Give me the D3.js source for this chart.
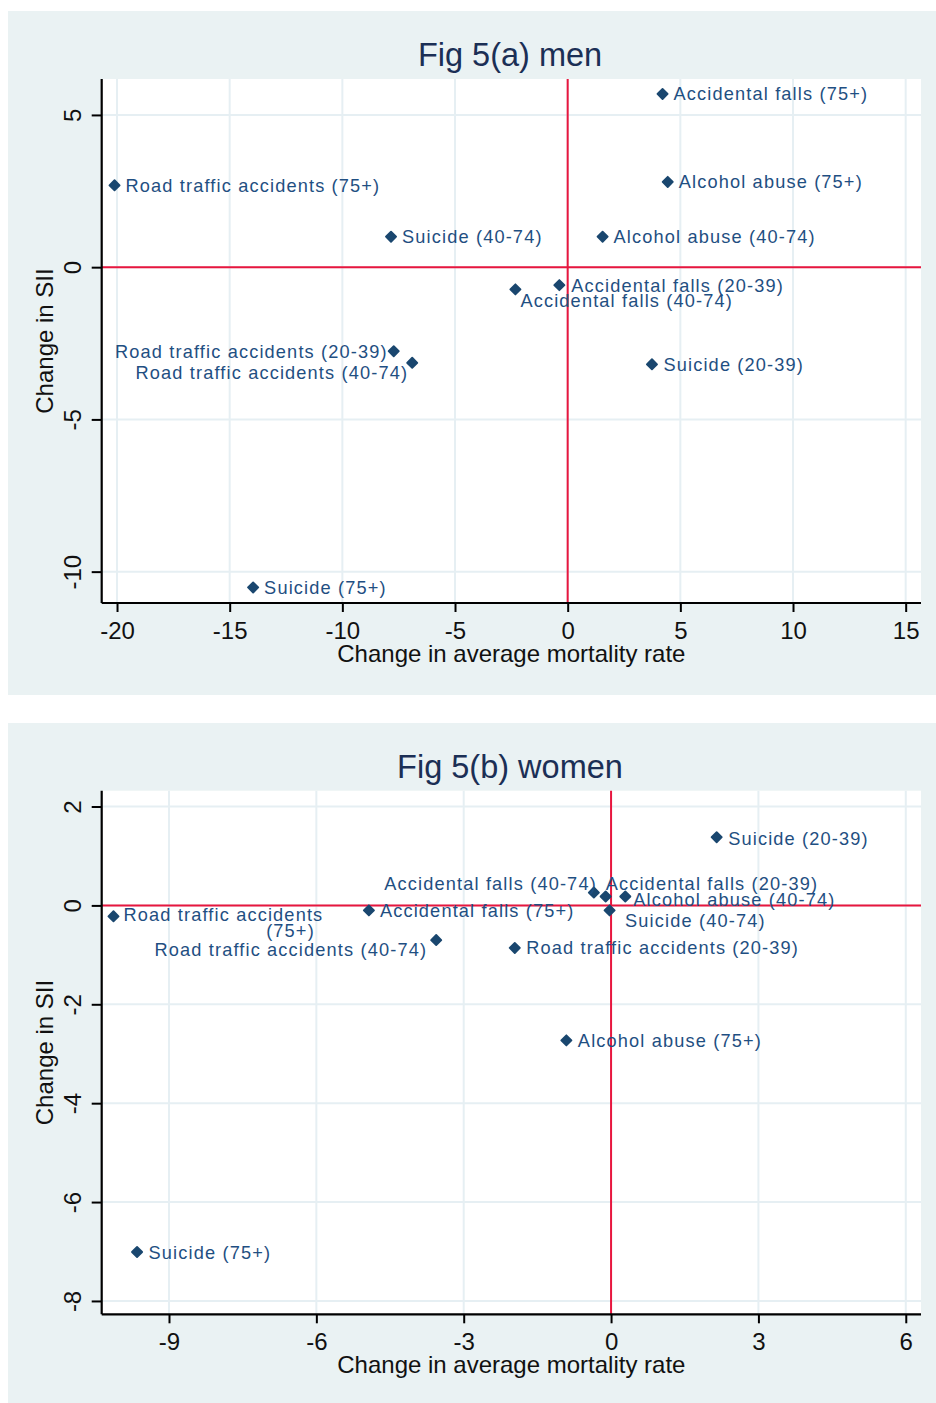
<!DOCTYPE html>
<html>
<head>
<meta charset="utf-8">
<script src="https://cdn.jsdelivr.net/npm/d3@7"></script>
<style>
  html, body { margin: 0; padding: 0; background: #ffffff; }
  svg { display: block; font-family: "Liberation Sans", Arial, sans-serif; }
</style>
</head>
<body>
<svg id="chart" width="936" height="1403"></svg>
<script>
// ---- Data: men ----
const menCauses = [
  "Accidental falls (75+)", "Alcohol abuse (75+)", "Alcohol abuse (40-74)",
  "Accidental falls (20-39)", "Accidental falls (40-74)", "Suicide (40-74)",
  "Road traffic accidents (75+)", "Road traffic accidents (20-39)",
  "Road traffic accidents (40-74)", "Suicide (75+)", "Suicide (20-39)"
];
const menMortalityChange = [4.21, 4.44, 1.55, -0.37, -2.32, -7.84, -20.11, -7.72, -6.90, -13.96, 3.74];
const menSIIChange       = [5.69, 2.80, 1.00, -0.59, -0.73, 1.00, 2.69, -2.76, -3.14, -10.52, -3.19];
const menXTicks = [-20, -15, -10, -5, 0, 5, 10, 15];
const menYTicks = [5, 0, -5, -10];

// ---- Data: women ----
const womenCauses = [
  "Suicide (20-39)", "Accidental falls (40-74)", "Accidental falls (20-39)",
  "Alcohol abuse (40-74)", "Suicide (40-74)", "Road traffic accidents (20-39)",
  "Accidental falls (75+)", "Road traffic accidents (40-74)",
  "Road traffic accidents (75+)", "Alcohol abuse (75+)", "Suicide (75+)"
];
const womenMortalityChange = [2.15, -0.35, -0.11, 0.29, -0.03, -1.96, -4.93, -3.56, -10.13, -0.91, -9.65];
const womenSIIChange       = [1.38, 0.26, 0.18, 0.18, -0.10, -0.86, -0.10, -0.70, -0.22, -2.73, -7.01];
const womenXTicks = [-9, -6, -3, 0, 3, 6];
const womenYTicks = [2, 0, -2, -4, -6, -8];

// Marker-label placement (anchor, dx, dy in px; optional wrapped second line)
const menLabelPlacement = [
  ["start", 11, 0], ["start", 11, 0], ["start", 11, 0], ["start", 12, 0],
  ["start", 5, 11.5], ["start", 11, 0], ["start", 11, 0], ["end", -6, 0],
  ["end", -4, 9.5], ["start", 11, 0], ["start", 11.5, 0]
];
const womenLabelPlacement = [
  ["start", 11.5, 1], ["end", 3, -9], ["start", 0, -13], ["start", 8, 3],
  ["start", 15.5, 10], ["start", 11.5, 0], ["start", 11, 0], ["end", -9, 9.5],
  ["start", 10, -2, { split: 22, dx2: 167, dy2: 16 }], ["start", 11.5, 0], ["start", 11.5, 0]
];

const panels = [
  {
    title: "Fig 5(a) men", causes: menCauses, xs: menMortalityChange, ys: menSIIChange,
    xTicks: menXTicks, yTicks: menYTicks, xDomain: [-20.68, 15.68], yDomain: [-11.03, 6.18],
    place: menLabelPlacement, boxTop: 11, boxBottom: 695, plotTop: 79, plotBottom: 603, titleY: 66
  },
  {
    title: "Fig 5(b) women", causes: womenCauses, xs: womenMortalityChange, ys: womenSIIChange,
    xTicks: womenXTicks, yTicks: womenYTicks, xDomain: [-10.37, 6.31], yDomain: [-8.27, 2.32],
    place: womenLabelPlacement, boxTop: 723, boxBottom: 1403, plotTop: 790.7, plotBottom: 1314.3, titleY: 778
  }
];

const svg = d3.select("#chart");
const plotLeft = 101.7, plotRight = 921;
const colors = {
  panelBg: "#eaf2f3", grid: "#e6eff3", ref: "#e8163e",
  marker: "#1a476f", label: "#1f4f82", title: "#1b2f55", axis: "#000000"
};

panels.forEach(p => {
  const g = svg.append("g");
  const x = d3.scaleLinear().domain(p.xDomain).range([plotLeft, plotRight]);
  const y = d3.scaleLinear().domain(p.yDomain).range([p.plotBottom, p.plotTop]);

  // outer panel and plot region
  g.append("rect").attr("x", 8).attr("y", p.boxTop).attr("width", 928)
    .attr("height", p.boxBottom - p.boxTop).attr("fill", colors.panelBg);
  g.append("rect").attr("x", plotLeft).attr("y", p.plotTop)
    .attr("width", plotRight - plotLeft).attr("height", p.plotBottom - p.plotTop).attr("fill", "#ffffff");

  // gridlines
  g.append("g").selectAll("line").data(p.xTicks).join("line")
    .attr("x1", d => x(d)).attr("x2", d => x(d)).attr("y1", p.plotTop).attr("y2", p.plotBottom)
    .attr("stroke", colors.grid).attr("stroke-width", 2);
  g.append("g").selectAll("line").data(p.yTicks).join("line")
    .attr("x1", plotLeft).attr("x2", plotRight).attr("y1", d => y(d)).attr("y2", d => y(d))
    .attr("stroke", colors.grid).attr("stroke-width", 2);

  // reference lines at zero
  g.append("line").attr("x1", plotLeft).attr("x2", plotRight).attr("y1", y(0)).attr("y2", y(0))
    .attr("stroke", colors.ref).attr("stroke-width", 2);
  g.append("line").attr("x1", x(0)).attr("x2", x(0)).attr("y1", p.plotTop).attr("y2", p.plotBottom)
    .attr("stroke", colors.ref).attr("stroke-width", 2);

  // axes
  const xAxis = g.append("g").attr("transform", `translate(0,${p.plotBottom})`)
    .call(d3.axisBottom(x).tickValues(p.xTicks).tickSize(9).tickSizeOuter(0).tickFormat(d3.format("d")));
  const yAxis = g.append("g").attr("transform", `translate(${plotLeft},0)`)
    .call(d3.axisLeft(y).tickValues(p.yTicks).tickSize(10).tickSizeOuter(0).tickFormat(d3.format("d")));
  [xAxis, yAxis].forEach(a => {
    a.select(".domain").attr("stroke", colors.axis).attr("stroke-width", 2.2);
    a.selectAll(".tick line").attr("stroke", colors.axis).attr("stroke-width", 2);
    a.selectAll(".tick text").attr("fill", "#111").attr("font-size", 24)
      .attr("font-family", "'Liberation Sans', Arial, sans-serif");
  });
  xAxis.select(".domain").attr("d", `M${plotLeft},0H${plotRight}`);
  yAxis.select(".domain").attr("d", `M0,${p.plotTop}V${p.plotBottom}`);
  xAxis.selectAll(".tick text").attr("y", 36).attr("dy", null).text(d => d3.format("d")(d).replace("−", "-"));
  yAxis.selectAll(".tick text").attr("x", null).attr("dy", null).attr("text-anchor", "middle")
    .attr("transform", "translate(-20.7,0) rotate(-90)")
    .text(d => d3.format("d")(d).replace("−", "-"));

  // titles
  g.append("text").attr("x", 510).attr("y", p.titleY).attr("text-anchor", "middle")
    .attr("font-size", 32.5).attr("fill", colors.title).text(p.title);
  g.append("text").attr("x", (plotLeft + plotRight) / 2).attr("y", p.plotBottom + 58.5)
    .attr("text-anchor", "middle").attr("font-size", 24).attr("fill", "#111")
    .text("Change in average mortality rate");
  g.append("text").attr("transform", `translate(53,${(p.plotTop + p.plotBottom) / 2}) rotate(-90)`)
    .attr("text-anchor", "middle").attr("font-size", 24).attr("fill", "#111")
    .text("Change in SII");

  // points
  const pts = p.causes.map((c, i) => ({ cause: c, mx: p.xs[i], sy: p.ys[i], place: p.place[i] }));
  const sym = d3.symbol().type(d3.symbolDiamond2).size(66);
  g.append("g").selectAll("path").data(pts).join("path")
    .attr("d", sym)
    .attr("transform", d => `translate(${x(d.mx)},${y(d.sy)})`)
    .attr("fill", colors.marker).attr("stroke", colors.marker)
    .attr("stroke-width", 1.8).attr("stroke-linejoin", "round");

  // marker labels
  const labels = g.append("g").selectAll("text").data(pts).join("text")
    .attr("x", d => x(d.mx) + d.place[1])
    .attr("y", d => y(d.sy) + d.place[2])
    .attr("dy", "0.36em")
    .attr("text-anchor", d => d.place[0])
    .attr("font-size", 18.2).attr("letter-spacing", 1.15)
    .attr("fill", colors.label);
  labels.each(function (d) {
    const t = d3.select(this);
    const wrap = d.place[3];
    if (!wrap) { t.text(d.cause); return; }
    t.append("tspan").text(d.cause.slice(0, wrap.split));
    t.append("tspan").attr("x", x(d.mx) + d.place[1] + wrap.dx2)
      .attr("dy", wrap.dy2).attr("text-anchor", "middle")
      .text(d.cause.slice(wrap.split + 1));
  });
});
</script>
</body>
</html>
